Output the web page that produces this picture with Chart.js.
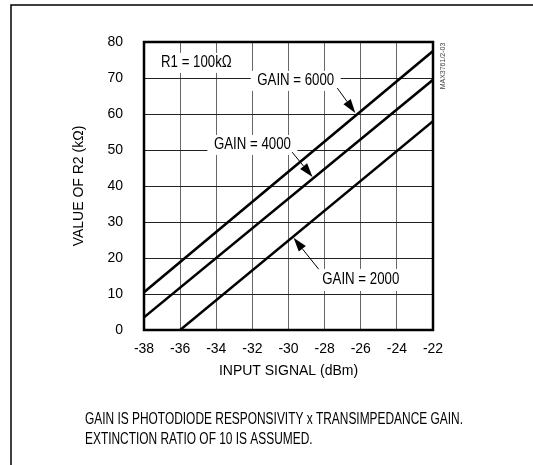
<!DOCTYPE html>
<html>
<head>
<meta charset="utf-8">
<script src="https://cdn.jsdelivr.net/npm/chart.js@4.4.0/dist/chart.umd.min.js"></script>
<style>
  html, body { margin: 0; padding: 0; background: #fff; }
  #wrap { width: 533px; height: 465px; }
</style>
</head>
<body>
<div id="wrap"><canvas id="chart" width="533" height="465"></canvas></div>
<script>
// data
const xTicks = [-38, -36, -34, -32, -30, -28, -26, -24, -22];
const yTicks = [0, 10, 20, 30, 40, 50, 60, 70, 80];

const gain6000X = [-38, -22];
const gain6000Y = [10.5, 77.5];
const gain4000X = [-38, -22];
const gain4000Y = [3.5, 69.5];
const gain2000X = [-36, -22];
const gain2000Y = [0, 58];

const seriesNames = ['GAIN = 6000', 'GAIN = 4000', 'GAIN = 2000'];
const footNotes = ['GAIN IS PHOTODIODE RESPONSIVITY x TRANSIMPEDANCE GAIN.', 'EXTINCTION RATIO OF 10 IS ASSUMED.'];

const FONT = "'Liberation Sans', Arial, sans-serif";

function toPoints(xs, ys) {
    return xs.map((x, i) => ({ x: x, y: ys[i] }));
}

// labels and arrows, in data units (label centre, arrow start, arrow tip)
const notes = [
    { text: 'R1 = 100k\u03A9', x: -35.1, y: 74.2, w: 84, h: 20 },
    { text: seriesNames[0], x: -29.6, y: 69.2, w: 90, h: 20, from: [-27.3, 67.2], to: [-26.3, 60.3] },
    { text: seriesNames[1], x: -32.0, y: 51.4, w: 90, h: 20, from: [-29.8, 49.4], to: [-28.67, 42.5] },
    { text: seriesNames[2], x: -26.0, y: 13.9, w: 90, h: 22, from: [-28.33, 16.9], to: [-29.72, 25.6] }
];

// narrow lettering: a tall font squeezed sideways
function narrowText(ctx, text, x, y, align, sx) {
    ctx.save();
    ctx.translate(x, y);
    ctx.scale(sx, 1);
    ctx.textAlign = align;
    ctx.fillText(text, 0, 0);
    ctx.restore();
}

function arrow(ctx, x1, y1, x2, y2) {
    const ang = Math.atan2(y2 - y1, x2 - x1);
    const len = 14, half = 4.5;
    const bx = x2 - Math.cos(ang) * len, by = y2 - Math.sin(ang) * len;
    ctx.beginPath();
    ctx.moveTo(x1, y1);
    ctx.lineTo(bx, by);
    ctx.lineWidth = 1;
    ctx.strokeStyle = '#000';
    ctx.stroke();
    ctx.beginPath();
    ctx.moveTo(x2, y2);
    ctx.lineTo(bx - Math.sin(ang) * half, by + Math.cos(ang) * half);
    ctx.lineTo(bx + Math.sin(ang) * half, by - Math.cos(ang) * half);
    ctx.closePath();
    ctx.fillStyle = '#000';
    ctx.fill();
}

const extras = {
    id: 'extras',
    afterDatasetsDraw(chart) {
        const ctx = chart.ctx;
        const xs = chart.scales.x, ys = chart.scales.y;
        const a = chart.chartArea;
        ctx.save();
        // labels on white boxes
        ctx.font = '16px ' + FONT;
        ctx.textBaseline = 'middle';
        const sx = 77 / ctx.measureText(seriesNames[0]).width;
        notes.forEach(n => {
            const px = xs.getPixelForValue(n.x), py = ys.getPixelForValue(n.y);
            ctx.fillStyle = '#fff';
            ctx.fillRect(px - n.w / 2, py - n.h / 2, n.w, n.h);
            ctx.fillStyle = '#000';
            narrowText(ctx, n.text, px, py, 'center', sx);
            if (n.from) {
                arrow(ctx, xs.getPixelForValue(n.from[0]), ys.getPixelForValue(n.from[1]),
                      xs.getPixelForValue(n.to[0]), ys.getPixelForValue(n.to[1]));
            }
        });
        // plot box
        ctx.lineWidth = 2.5;
        ctx.strokeStyle = '#000';
        ctx.strokeRect(a.left, a.top, a.right - a.left, a.bottom - a.top);
        ctx.restore();
    },
    afterDraw(chart) {
        const ctx = chart.ctx;
        const a = chart.chartArea;
        ctx.save();
        // page frame
        ctx.beginPath();
        ctx.moveTo(11, 465);
        ctx.lineTo(11, 5);
        ctx.lineTo(533, 5);
        ctx.lineWidth = 1.5;
        ctx.strokeStyle = '#000';
        ctx.stroke();
        // figure code
        ctx.translate(a.right + 10, a.top + 24);
        ctx.rotate(-Math.PI / 2);
        ctx.font = '7px ' + FONT;
        ctx.fillStyle = '#444';
        ctx.textAlign = 'center';
        ctx.textBaseline = 'middle';
        ctx.fillText('MAX3761/2-03', 0, 0);
        ctx.restore();
        // notes under the chart
        ctx.save();
        ctx.font = '16px ' + FONT;
        ctx.fillStyle = '#000';
        ctx.textBaseline = 'middle';
        const fx = 378 / ctx.measureText(footNotes[0]).width;
        narrowText(ctx, footNotes[0], 85, 420, 'left', fx);
        narrowText(ctx, footNotes[1], 85, 440, 'left', fx);
        ctx.restore();
    }
};

const lineStyle = {
    borderColor: '#000',
    backgroundColor: '#000',
    borderWidth: 2.5,
    pointRadius: 0,
    showLine: true,
    fill: false
};

new Chart(document.getElementById('chart'), {
    type: 'scatter',
    data: {
        datasets: [
            Object.assign({ label: seriesNames[0], data: toPoints(gain6000X, gain6000Y) }, lineStyle),
            Object.assign({ label: seriesNames[1], data: toPoints(gain4000X, gain4000Y) }, lineStyle),
            Object.assign({ label: seriesNames[2], data: toPoints(gain2000X, gain2000Y) }, lineStyle)
        ]
    },
    options: {
        responsive: false,
        animation: false,
        layout: { padding: { top: 42, right: 100, left: 0, bottom: 0 } },
        plugins: {
            legend: { display: false },
            tooltip: { enabled: false }
        },
        scales: {
            x: {
                type: 'linear',
                min: xTicks[0],
                max: xTicks[xTicks.length - 1],
                afterBuildTicks: s => { s.ticks = xTicks.map(v => ({ value: v })); },
                afterFit: s => { s.height = 135; },
                ticks: { color: '#000', font: { family: FONT, size: 14 }, padding: 11 },
                grid: { color: '#666', lineWidth: 1, drawTicks: false },
                border: { display: false },
                title: {
                    display: true,
                    text: 'INPUT SIGNAL (dBm)',
                    color: '#000',
                    font: { family: FONT, size: 14 },
                    padding: { top: 0, bottom: 85 }
                }
            },
            y: {
                type: 'linear',
                min: yTicks[0],
                max: yTicks[yTicks.length - 1],
                afterBuildTicks: s => { s.ticks = yTicks.map(v => ({ value: v })); },
                afterFit: s => { s.width = 144; },
                ticks: { color: '#000', font: { family: FONT, size: 14 }, padding: 21 },
                grid: { color: '#222', lineWidth: 1, drawTicks: false },
                border: { display: false },
                title: {
                    display: true,
                    text: 'VALUE OF R2 (k\u03A9)',
                    color: '#000',
                    font: { family: FONT, size: 14 },
                    padding: { top: 71, bottom: 0 }
                }
            }
        }
    },
    plugins: [extras]
});
</script>
</body>
</html>
